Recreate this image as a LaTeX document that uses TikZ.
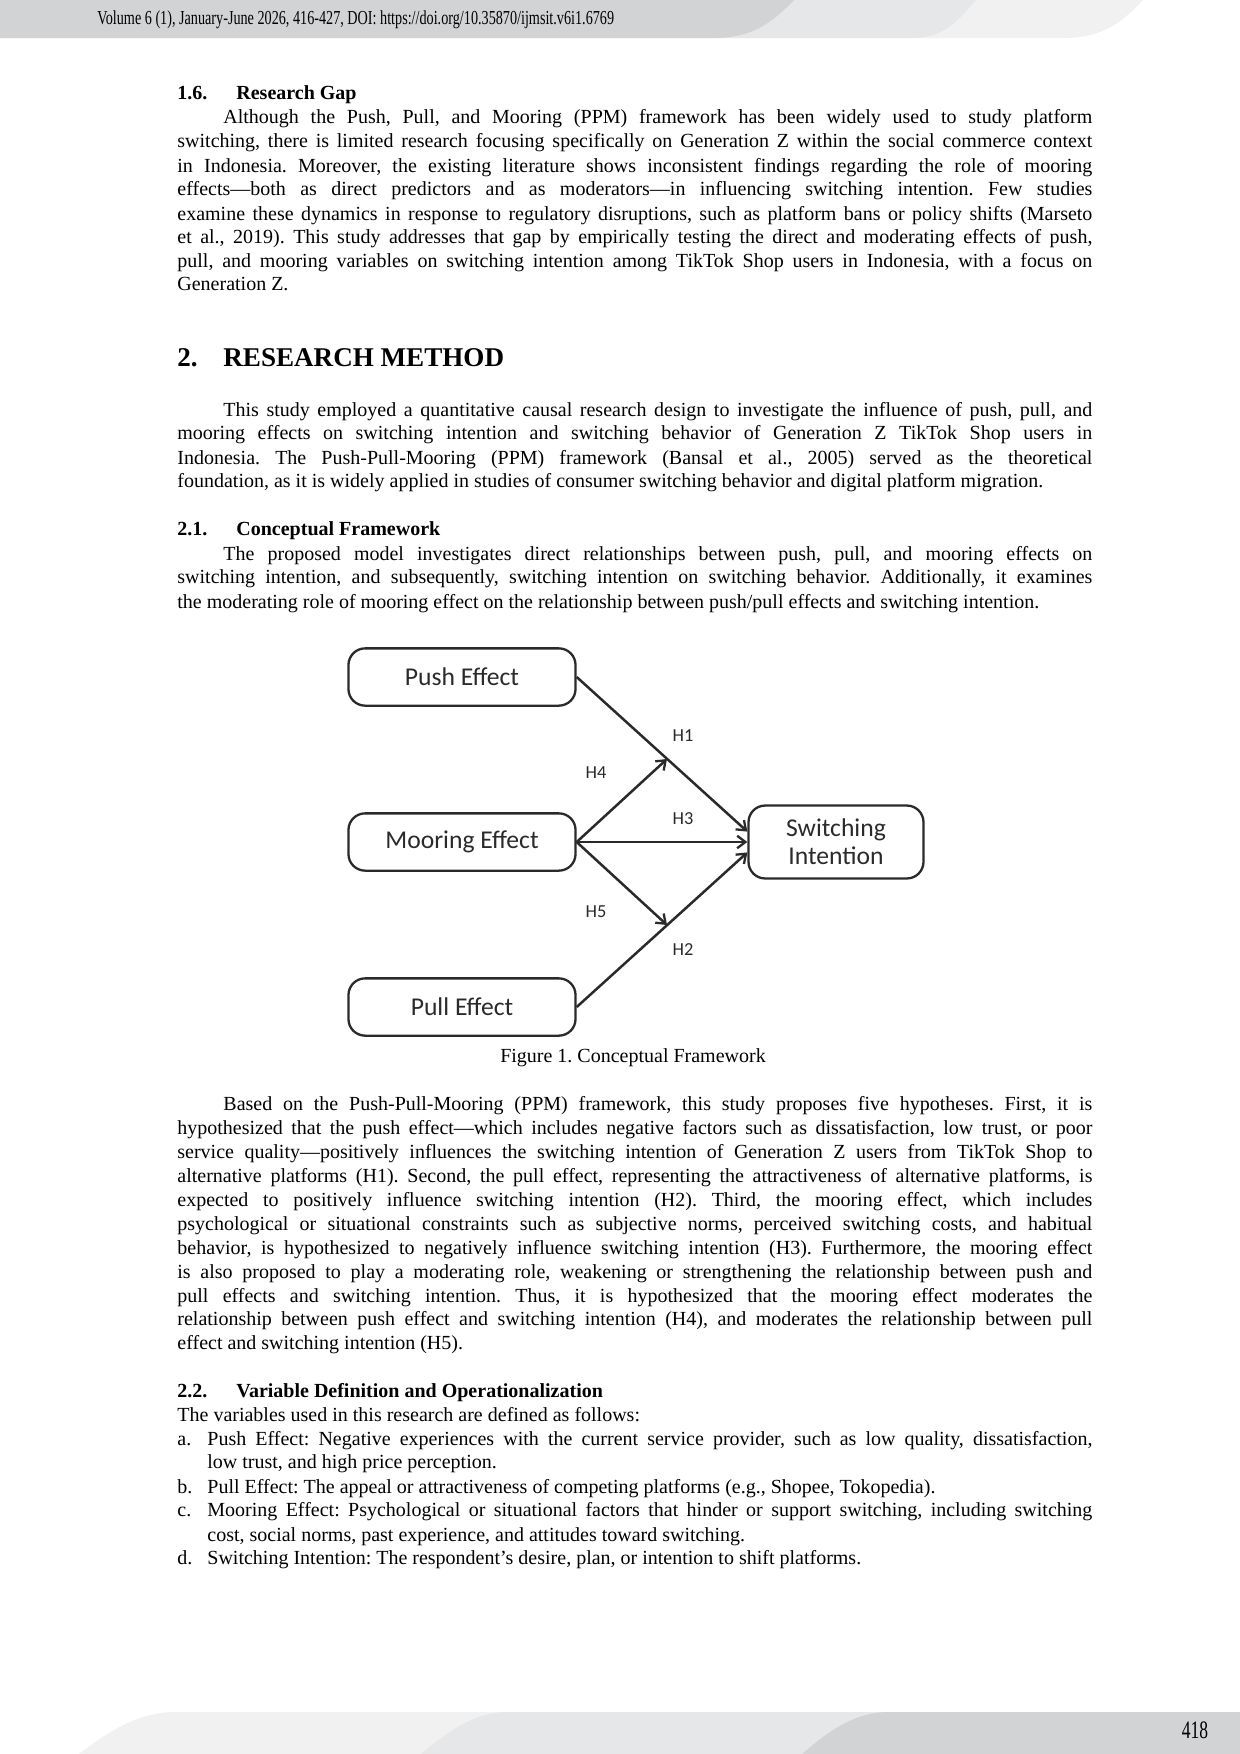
\documentclass[tikz,border=0pt]{standalone}
\usepackage{fontspec}
\setmainfont{Liberation Serif}
\newfontfamily\diafont{Carlito}
\usetikzlibrary{arrows.meta}
\definecolor{bandA}{HTML}{D2D3D5}
\definecolor{bandB}{HTML}{E6E7E8}
\definecolor{bandC}{HTML}{F1F1F2}
\definecolor{diag}{HTML}{2A2A2A}
\newcommand\bodyfont{\frenchspacing\fontsize{9.6pt}{11.5pt}\selectfont}
\newcommand\jl[5]{\node[txt] (#1) at (#2,#3) {\makebox[#4][s]{#5}};}
\newcommand\lastl[4]{\node[txt] (#1) at (#2,#3) {#4};}
\begin{document}
\begin{tikzpicture}[x=0.48pt,y=-0.48pt,
  txt/.style={anchor=base west,inner sep=0pt,font=\bodyfont},
  hd/.style={anchor=base west,inner sep=0pt,font=\bodyfont\bfseries},
  box/.style={draw=diag,line width=1.1pt,rounded corners=8pt,minimum width=109pt,minimum height=27.5pt,inner sep=0pt,font=\diafont\fontsize{12.3pt}{13.5pt}\selectfont,text=diag,align=center},
  hl/.style={font=\diafont\fontsize{8.8pt}{9pt}\selectfont,text=diag,inner sep=0pt},
  arr/.style={draw=diag,line width=1.2pt,-{Straight Barb[length=4pt,width=6pt,line width=1.1pt]}}]
\useasboundingbox (0,0) rectangle (1240,1754);
% header bands
\fill[bandC] (0,0) -- (1143,0) .. controls (1120,25) and (1100,38) .. (1063,38) -- (0,38) -- cycle;
\fill[bandB] (0,0) -- (976,0) .. controls (955,25) and (940,38) .. (913,38) -- (0,38) -- cycle;
\fill[bandA] (0,0) -- (794,0) .. controls (770,25) and (750,38) .. (714,38) -- (0,38) -- cycle;
\node[anchor=base west,inner sep=0pt] (hdr) at (97,24) {\resizebox{248pt}{6.6pt}{Volume 6 (1), January-June 2026, 416-427, DOI: https://doi.org/10.35870/ijmsit.v6i1.6769}};
% footer bands
\fill[bandC] (79,1754) .. controls (110,1730) and (140,1712) .. (175,1712) -- (1240,1712) -- (1240,1754) -- cycle;
\fill[bandB] (421,1754) .. controls (450,1730) and (475,1712) .. (508,1712) -- (1240,1712) -- (1240,1754) -- cycle;
\fill[bandA] (802,1754) .. controls (830,1730) and (855,1712) .. (889,1712) -- (1240,1712) -- (1240,1754) -- cycle;
\node[anchor=base,inner sep=0pt] (pg) at (1195,1738) {\resizebox{!}{8pt}{\scalebox{0.7}[1]{418}}};
% 1.6
\node[hd] (h16n) at (177,99) {1.6.};
\node[hd] (h16t) at (236,99) {Research Gap};
\jl{a1}{223}{123}{417.1pt}{Although the Push, Pull, and Mooring (PPM) framework has been widely used to study platform}
\jl{a2}{177}{147}{439.2pt}{switching, there is limited research focusing specifically on Generation Z within the social commerce context}
\jl{a3}{177}{172}{439.2pt}{in Indonesia. Moreover, the existing literature shows inconsistent findings regarding the role of mooring}
\jl{a4}{177}{195}{439.2pt}{effects---both as direct predictors and as moderators---in influencing switching intention. Few studies}
\jl{a5}{177}{220}{439.2pt}{examine these dynamics in response to regulatory disruptions, such as platform bans or policy shifts (Marseto}
\jl{a6}{177}{243}{439.2pt}{et al., 2019). This study addresses that gap by empirically testing the direct and moderating effects of push,}
\jl{a7}{177}{267}{439.2pt}{pull, and mooring variables on switching intention among TikTok Shop users in Indonesia, with a focus on}
\lastl{a8}{177}{290}{Generation Z.}
% 2
\node[anchor=base west,inner sep=0pt,font=\fontsize{13pt}{15pt}\selectfont\bfseries] (h2n) at (177,366) {2.};
\node[anchor=base west,inner sep=0pt,font=\fontsize{13pt}{15pt}\selectfont\bfseries] (h2t) at (223,366) {RESEARCH METHOD};
\jl{b1}{223}{416}{417.1pt}{This study employed a quantitative causal research design to investigate the influence of push, pull, and}
\jl{b2}{177}{439}{439.2pt}{mooring effects on switching intention and switching behavior of Generation Z TikTok Shop users in}
\jl{b3}{177}{464}{439.2pt}{Indonesia. The Push-Pull-Mooring (PPM) framework (Bansal et al., 2005) served as the theoretical}
\lastl{b4}{177}{487}{foundation, as it is widely applied in studies of consumer switching behavior and digital platform migration.}
% 2.1
\node[hd] (h21n) at (177,535) {2.1.};
\node[hd] (h21t) at (236,535) {Conceptual Framework};
\jl{c1}{223}{560}{417.1pt}{The proposed model investigates direct relationships between push, pull, and mooring effects on}
\jl{c2}{177}{583}{439.2pt}{switching intention, and subsequently, switching intention on switching behavior. Additionally, it examines}
\lastl{c3}{177}{608}{the moderating role of mooring effect on the relationship between push/pull effects and switching intention.}
% diagram
\node[box] (push) at (462,677) {Push Effect};
\node[box] (moor) at (462,842) {Mooring Effect};
\node[box] (pull) at (462,1007) {Pull Effect};
\node[box,minimum width=84pt,minimum height=35pt] (sw) at (836,842) {Switching\\Intention};
\coordinate (j1) at (667,759);
\coordinate (j2) at (667,925);
\coordinate (e1) at ([yshift=5pt]sw.west);
\coordinate (e3) at (sw.west);
\coordinate (e2) at ([yshift=-5pt]sw.west);
\draw[arr] (push.east) -- (e1);
\draw[arr] (pull.east) -- (e2);
\draw[arr] (moor.east) -- (e3);
\draw[arr] (moor.east) -- (j1);
\draw[arr] (moor.east) -- (j2);
\node[hl] (lh1) at (683,736) {H1};
\node[hl] (lh4) at (596,773) {H4};
\node[hl] (lh3) at (683,819) {H3};
\node[hl] (lh5) at (596,912) {H5};
\node[hl] (lh2) at (683,950) {H2};
\node[font=\bodyfont,inner sep=0pt] (cap) at (633,1058) {Figure 1. Conceptual Framework};
% para 4
\jl{d1}{223}{1110}{417.1pt}{Based on the Push-Pull-Mooring (PPM) framework, this study proposes five hypotheses. First, it is}
\jl{d2}{177}{1134}{439.2pt}{hypothesized that the push effect---which includes negative factors such as dissatisfaction, low trust, or poor}
\jl{d3}{177}{1158}{439.2pt}{service quality---positively influences the switching intention of Generation Z users from TikTok Shop to}
\jl{d4}{177}{1182}{439.2pt}{alternative platforms (H1). Second, the pull effect, representing the attractiveness of alternative platforms, is}
\jl{d5}{177}{1206}{439.2pt}{expected to positively influence switching intention (H2). Third, the mooring effect, which includes}
\jl{d6}{177}{1230}{439.2pt}{psychological or situational constraints such as subjective norms, perceived switching costs, and habitual}
\jl{d7}{177}{1254}{439.2pt}{behavior, is hypothesized to negatively influence switching intention (H3). Furthermore, the mooring effect}
\jl{d8}{177}{1278}{439.2pt}{is also proposed to play a moderating role, weakening or strengthening the relationship between push and}
\jl{d9}{177}{1302}{439.2pt}{pull effects and switching intention. Thus, it is hypothesized that the mooring effect moderates the}
\jl{d10}{177}{1325}{439.2pt}{relationship between push effect and switching intention (H4), and moderates the relationship between pull}
\lastl{d11}{177}{1349}{effect and switching intention (H5).}
% 2.2
\node[hd] (h22n) at (177,1397) {2.2.};
\node[hd] (h22t) at (236,1397) {Variable Definition and Operationalization};
\lastl{e0}{177}{1421}{The variables used in this research are defined as follows:}
\lastl{la}{177}{1445}{a.}
\jl{ea1}{207}{1445}{424.8pt}{Push Effect: Negative experiences with the current service provider, such as low quality, dissatisfaction,}
\lastl{ea2}{207}{1468}{low trust, and high price perception.}
\lastl{lb}{177}{1493}{b.}
\lastl{eb1}{207}{1493}{Pull Effect: The appeal or attractiveness of competing platforms (e.g., Shopee, Tokopedia).}
\lastl{lc}{177}{1516}{c.}
\jl{ec1}{207}{1516}{424.8pt}{Mooring Effect: Psychological or situational factors that hinder or support switching, including switching}
\lastl{ec2}{207}{1541}{cost, social norms, past experience, and attitudes toward switching.}
\lastl{ld}{177}{1564}{d.}
\lastl{ed1}{207}{1564}{Switching Intention: The respondent’s desire, plan, or intention to shift platforms.}
\end{tikzpicture}
\end{document}
